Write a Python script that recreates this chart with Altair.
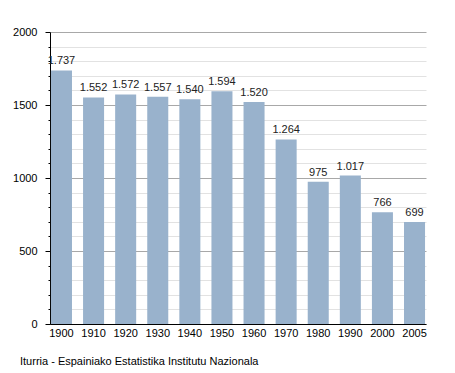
import altair as alt
import pandas as pd

years = ["1900", "1910", "1920", "1930", "1940", "1950", "1960", "1970", "1980", "1990", "2000", "2005"]
population = [1737, 1552, 1572, 1557, 1540, 1594, 1520, 1264, 975, 1017, 766, 699]
source_text = "Iturria - Espainiako Estatistika Institutu Nazionala"

df = pd.DataFrame({
    "year": years,
    "pop": population,
    "label": [f"{v:,}".replace(",", ".") for v in population],
})

FONT = "Liberation Sans"

x = alt.X("year:N", sort=years, title=None,
          scale=alt.Scale(paddingInner=0.345, paddingOuter=0.03),
          axis=alt.Axis(labelAngle=0, tickSize=0, labelPadding=3, domainColor="black",
                        labelFont=FONT, labelFontSize=11, labelColor="#000", grid=False))

y = alt.Y("pop:Q", title=None,
          scale=alt.Scale(domain=[0, 2000], nice=False),
          axis=alt.Axis(values=list(range(0, 2001, 100)),
                        labelExpr="datum.value % 500 === 0 ? datum.value : ''",
                        labelOverlap=False,
                        tickSize={"condition": {"test": "datum.value % 500 === 0", "value": 5}, "value": 2},
                        gridColor={"condition": {"test": "datum.value % 500 === 0", "value": "#a8a8a8"}, "value": "#e2e2e2"},
                        tickColor="black", domainColor="black", labelPadding=8,
                        labelFont=FONT, labelFontSize=11, labelColor="#000"))

base = alt.Chart(df).encode(x=x, y=y)
bars = base.mark_bar(color="#99b2cc")
texts = base.mark_text(baseline="bottom", dy=-4, font=FONT, fontSize=11, color="#222").encode(text="label:N")

chart = alt.layer(bars, texts).properties(
    width=376, height=292,
    autosize=alt.AutoSizeParams(type="none"),
    padding={"left": 42, "top": 24, "right": 21, "bottom": 49},
    title=alt.TitleParams(source_text, orient="bottom", anchor="start", frame="group", dx=-30, offset=18,
                          baseline="top", font=FONT, fontSize=11, fontWeight="normal", color="#000"),
).configure_view(stroke=None)

chart.save("out.html", embed_options={"renderer": "svg", "actions": False})
